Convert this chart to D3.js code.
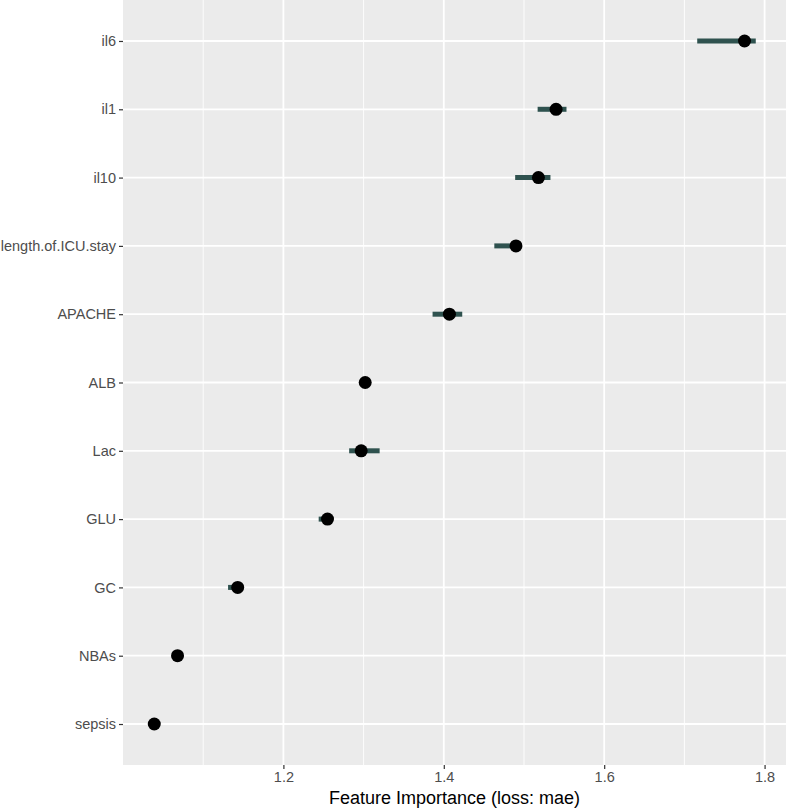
<!DOCTYPE html>
<html>
<head>
<meta charset="utf-8">
<script src="https://cdn.jsdelivr.net/npm/d3@7"></script>
<style>
  body { margin: 0; background: #fff; }
  text { font-family: "Liberation Sans", Arial, sans-serif; }
</style>
</head>
<body>
<script>
// Feature names, top to bottom
const features = ["il6", "il1", "il10", "length.of.ICU.stay", "APACHE", "ALB", "Lac", "GLU", "GC", "NBAs", "sepsis"];
// Mean dropout loss
const importance = [1.775, 1.540, 1.518, 1.490, 1.407, 1.302, 1.297, 1.255, 1.143, 1.068, 1.039];
// Interval low / high
const lower = [1.716, 1.517, 1.489, 1.463, 1.386, 1.298, 1.282, 1.244, 1.131, 1.066, 1.037];
const upper = [1.789, 1.553, 1.533, 1.497, 1.423, 1.305, 1.320, 1.259, 1.146, 1.070, 1.041];
const xTicks = [1.2, 1.4, 1.6, 1.8];
const xMinor = [1.1, 1.3, 1.5, 1.7];

const data = features.map((f, i) => ({ name: f, value: importance[i], lo: lower[i], hi: upper[i] }));

// Panel geometry
const W = 786, H = 809;
const panel = { left: 123, right: 786, top: 0, bottom: 765 };

const svg = d3.select("body")
    .append("svg")
    .attr("width", W)
    .attr("height", H);

// X scale
const x = d3.scaleLinear()
    .domain([1.0, 1.8267])
    .range([panel.left, panel.right]);

// Y scale (discrete, ggplot style expansion of 0.6)
const y = d3.scalePoint()
    .domain(features)
    .range([panel.top, panel.bottom])
    .padding(0.6);

// Panel background
svg.append("rect")
    .attr("x", panel.left)
    .attr("y", panel.top)
    .attr("width", panel.right - panel.left)
    .attr("height", panel.bottom - panel.top)
    .attr("fill", "#ebebeb");

// Minor grid
svg.append("g").selectAll("line")
    .data(xMinor)
    .join("line")
    .attr("x1", d => x(d)).attr("x2", d => x(d))
    .attr("y1", panel.top).attr("y2", panel.bottom)
    .attr("stroke", "#fff")
    .attr("stroke-width", 0.9);

// Major grid
svg.append("g").selectAll("line")
    .data(xTicks)
    .join("line")
    .attr("x1", d => x(d)).attr("x2", d => x(d))
    .attr("y1", panel.top).attr("y2", panel.bottom)
    .attr("stroke", "#fff")
    .attr("stroke-width", 1.8);

svg.append("g").selectAll("line")
    .data(features)
    .join("line")
    .attr("x1", panel.left).attr("x2", panel.right)
    .attr("y1", d => y(d)).attr("y2", d => y(d))
    .attr("stroke", "#fff")
    .attr("stroke-width", 1.8);

// X axis
const xAxis = svg.append("g")
    .attr("transform", `translate(0,${panel.bottom})`)
    .call(d3.axisBottom(x).tickValues(xTicks).tickSize(4).tickPadding(3).tickFormat(d3.format(".1f")));
xAxis.select(".domain").remove();
xAxis.selectAll(".tick line").attr("stroke", "#333").attr("stroke-width", 1.2);
xAxis.selectAll(".tick text")
    .attr("fill", "#4d4d4d")
    .style("font-size", "14.5px")
    .style("font-family", "'Liberation Sans', Arial, sans-serif");

// Y axis
const yAxis = svg.append("g")
    .attr("transform", `translate(${panel.left},0)`)
    .call(d3.axisLeft(y).tickSize(4).tickPadding(3));
yAxis.select(".domain").remove();
yAxis.selectAll(".tick line").attr("stroke", "#333").attr("stroke-width", 1.2);
yAxis.selectAll(".tick text")
    .attr("fill", "#4d4d4d")
    .style("font-size", "14.5px")
    .style("font-family", "'Liberation Sans', Arial, sans-serif");

// Interval bars
svg.append("g").selectAll("line")
    .data(data)
    .join("line")
    .attr("x1", d => x(d.lo))
    .attr("x2", d => x(d.hi))
    .attr("y1", d => y(d.name))
    .attr("y2", d => y(d.name))
    .attr("stroke", "#2f524f")
    .attr("stroke-width", 5);

// Points
svg.append("g").selectAll("circle")
    .data(data)
    .join("circle")
    .attr("cx", d => x(d.value))
    .attr("cy", d => y(d.name))
    .attr("r", 6.5)
    .attr("fill", "#000");

// X axis title
svg.append("text")
    .attr("x", (panel.left + panel.right) / 2)
    .attr("y", 804)
    .attr("text-anchor", "middle")
    .attr("fill", "#000")
    .style("font-size", "18px")
    .text("Feature Importance (loss: mae)");
</script>
</body>
</html>
